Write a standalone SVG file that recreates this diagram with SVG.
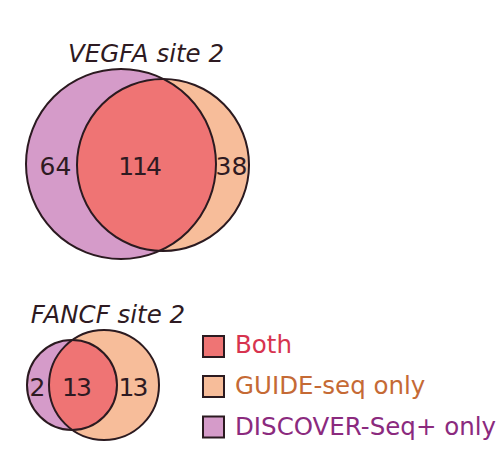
<svg xmlns="http://www.w3.org/2000/svg" width="504" height="467" viewBox="0 0 504 467">
<style>
.purple{fill:#d59bc9}
.orange{fill:#f7bd9a}
.red{fill:#ef7474}
.edge{fill:none;stroke:#2b1a20;stroke-width:2}
.t{font-family:"DejaVu Sans",sans-serif;font-size:24.5px;fill:#2e1a22}
.title{font-style:italic;text-anchor:middle}
.num{font-size:25px;text-anchor:middle}
.tight{letter-spacing:-2px}
.sw{stroke:#2b1a20;stroke-width:2}
</style>
<defs>
<clipPath id="cpA"><circle cx="121" cy="164" r="95"/></clipPath>
<clipPath id="cpB"><circle cx="72" cy="385" r="45"/></clipPath>
</defs>
<g id="vegfa">
<text class="t title" x="146" y="62">VEGFA site 2</text>
<circle class="purple" cx="121" cy="164" r="95"/>
<circle class="orange" cx="163" cy="165" r="86"/>
<circle class="red" cx="163" cy="165" r="86" clip-path="url(#cpA)"/>
<circle class="edge" cx="121" cy="164" r="95"/>
<circle class="edge" cx="163" cy="165" r="86"/>
<text class="t num" x="55.5" y="175">64</text>
<text class="t num tight" x="139" y="175">114</text>
<text class="t num" x="231.5" y="175">38</text>
</g>
<g id="fancf">
<text class="t title" x="108" y="323">FANCF site 2</text>
<circle class="purple" cx="72" cy="385" r="45"/>
<circle class="orange" cx="104" cy="385" r="55"/>
<circle class="red" cx="104" cy="385" r="55" clip-path="url(#cpB)"/>
<circle class="edge" cx="72" cy="385" r="45"/>
<circle class="edge" cx="104" cy="385" r="55"/>
<text class="t num" x="37.5" y="395.5">2</text>
<text class="t num tight" x="76" y="395.5">13</text>
<text class="t num tight" x="132.5" y="395.5">13</text>
</g>
<g id="legend">
<rect class="red sw" x="203" y="336" width="21" height="21"/>
<text class="t" x="235" y="353" style="fill:#d7334f">Both</text>
<rect class="orange sw" x="203" y="376" width="21" height="21"/>
<text class="t" x="235" y="394" style="fill:#c56a35">GUIDE-seq only</text>
<rect class="purple sw" x="203" y="416.5" width="21" height="21"/>
<text class="t" x="235" y="435" style="fill:#8b2a7e">DISCOVER-Seq+ only</text>
</g>
</svg>
